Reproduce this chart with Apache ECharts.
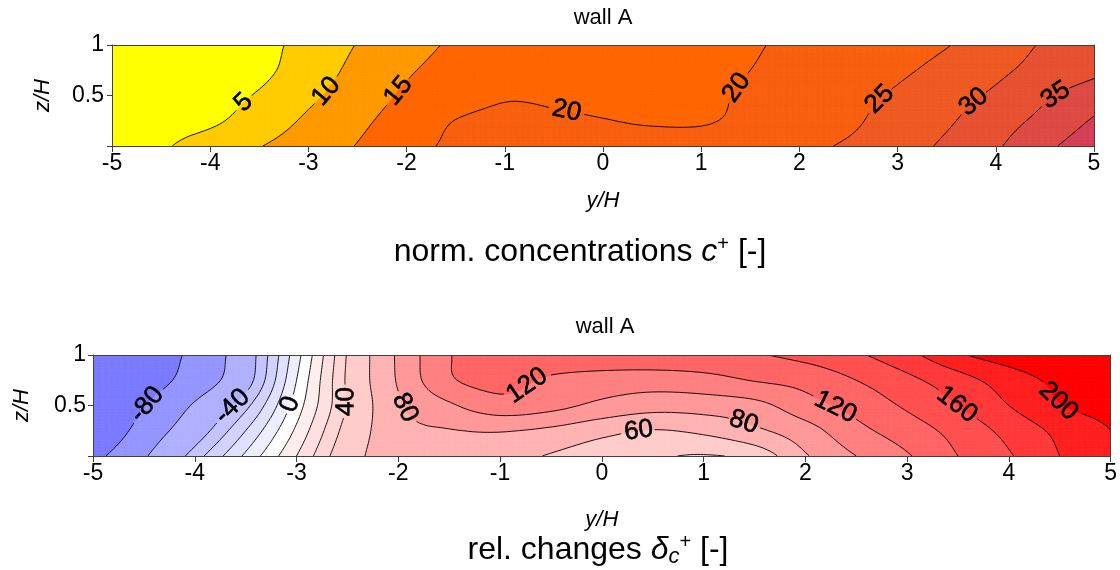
<!DOCTYPE html>
<html><head><meta charset="utf-8">
<script src="https://cdn.jsdelivr.net/npm/echarts@6/dist/echarts.min.js"></script>
<style>html,body{margin:0;padding:0;background:#fff}#c{width:1120px;height:570px}</style>
</head><body><div id="c"></div>
<script>
// ---------------- data ----------------
const yNodes = [-5,-4.5,-4,-3.5,-3,-2.5,-2,-1.5,-1,-0.5,0,0.5,1,1.5,2,2.5,3,3.5,4,4.5,5];
const zNodes = [0,0.25,0.5,0.75,1];
const xTickLabels = [-5,-4,-3,-2,-1,0,1,2,3,4,5];
const zTickLabels = [0.5,1];

// norm. concentrations c+ (rows: z = 0, 0.25, 0.5, 0.75, 1)
const concZ0   = [3,4.5,7,9.8,12.5,15.2,18.5,20.8,22,22.5,22.8,23,23.2,23.5,24.2,25.5,28,30.8,34.4,38.9,43];
const concZ025 = [2.5,3.5,4.3,7.2,10.8,13.9,17.2,20.1,21.3,20.8,20.2,19.4,19.4,21.5,23,24.2,27,29.4,32.8,36.4,40.5];
const concZ05  = [2,2.8,3.5,5.4,9,12.4,15.7,17.5,19.5,19.2,18.7,18.4,18.8,20.8,22.3,23.7,25.6,28.2,30.8,34.3,37.5];
const concZ075 = [1.5,2.3,3,4,7.4,11.3,14.5,16.5,17.8,17.8,17.8,17.8,18.3,20,21.5,22.8,24.3,26.3,29,31.7,34];
const concZ1   = [1.2,2,2.8,3.8,6.5,10.2,13.3,15.6,16.8,17.2,17.4,17.6,18,19.5,21,22.2,23.5,24.8,27.6,30.5,33];
const concLevels = [5,10,15,20,25,30,35,40];
const concColors = ['#ffff00','#ffcc00','#ff9900','#ff6600','#f8600f','#ef5a22','#e65232','#dd4a44','#d44055'];
const concLabels = [[-3.65,0.42,5],[-2.83,0.55,10],[-2.09,0.55,15],[-0.37,0.35,20],[1.37,0.57,20],[2.83,0.45,25],[3.78,0.43,30],[4.61,0.5,35]];

// rel. changes delta_c+ (rows: z = 0, 0.25, 0.5, 0.75, 1)
const deltaZ0   = [-86,-62,-35,-8,20,50,75,74,70,58,48,43,38.5,47,78,100,118,140,158,180,198];
const deltaZ025 = [-100,-72,-48,-20,12,45,74,79,81,76,66,59,64,76,92,114,130,147,166,185,200];
const deltaZ05  = [-106,-81,-58,-33,5,41,77,97,112,106,95,88,89,94,112,127,143,160,180,199,208];
const deltaZ075 = [-104,-90,-71,-46,0,42,82,117,126,117,112,110,113,121,127,140,155,172,190,205,214];
const deltaZ1   = [-100,-92,-75,-48,-4,41,83,119,130,133,134,135,136,138.5,146,157,174,197,210,216,220];
const deltaLevels = [-80,-60,-40,-30,-20,-10,0,10,20,30,40,60,80,100,120,140,160,180,200];
const deltaColors = ['#7b7bff','#9595ff','#b0b0ff','#c4c4ff','#d2d2ff','#e0e0ff','#eeeeff','#ffffff',
  '#ffeeee','#ffe0e0','#ffd6d6','#ffcccc','#ffb3b3','#ff9999','#ff8080','#ff6666','#ff5050','#ff3a3a','#ff2020','#ff0000'];
const deltaLabels = [[-4.47,0.51,-80],[-3.64,0.5,-40],[-3.06,0.51,0],[-2.51,0.54,40],[-1.9,0.5,80],[-0.73,0.69,120],
  [0.36,0.27,60],[1.4,0.35,80],[2.31,0.51,120],[3.49,0.51,160],[4.41,0.43,200]];

// ---------------- rendering helpers ----------------
const FONT = 'Liberation Sans, Arial, sans-serif';
const SUB = 8;
function cr(p0,p1,p2,p3,t){const t2=t*t,t3=t2*t;return 0.5*((2*p1)+(-p0+p2)*t+(2*p0-5*p1+4*p2-p3)*t2+(-p0+3*p1-3*p2+p3)*t3);}
function up(arr,s){const out=[],n=arr.length;for(let k=0;k<n-1;k++){
  const p1=arr[k],p2=arr[k+1];
  const p0=k>0?arr[k-1]:2*p1-p2, p3=k+2<n?arr[k+2]:2*p2-p1;
  for(let t=0;t<s;t++)out.push(cr(p0,p1,p2,p3,t/s));}
  out.push(arr[n-1]);return out;}
function lin(arr,s){const out=[];for(let k=0;k<arr.length-1;k++)for(let t=0;t<s;t++)out.push(arr[k]+(arr[k+1]-arr[k])*t/s);out.push(arr[arr.length-1]);return out;}
function buildPanel(rows, levels, colors, labels, fontSize){
  const ry = rows.map(r=>up(r,SUB));
  const W = ry[0].length;
  const cols = [];
  for(let i=0;i<W;i++) cols.push(up(ry.map(r=>r[i]),SUB));
  const H = cols[0].length;
  const fine = [];
  for(let j=0;j<H;j++) fine.push(cols.map(c=>c[j]));
  const yF = lin(yNodes,SUB), zF = lin(zNodes,SUB);
  const P = {fine, yF, zF, W, H, levels, colors, fontSize};
  const dy=yF[1]-yF[0], dz=zF[1]-zF[0];
  P.f = function(y,z){
    let fi=(y-yF[0])/dy, fj=(z-zF[0])/dz;
    fi=Math.max(0,Math.min(W-1.0001,fi)); fj=Math.max(0,Math.min(H-1.0001,fj));
    const i=Math.floor(fi), j=Math.floor(fj), a=fi-i, b=fj-j;
    return fine[j][i]*(1-a)*(1-b)+fine[j][i+1]*a*(1-b)+fine[j+1][i]*(1-a)*b+fine[j+1][i+1]*a*b;
  };
  P.labs = labels.map(([y,z,L])=>{
    for(let k=0;k<12;k++){
      const h=0.01, v=P.f(y,z);
      const gy=(P.f(y+h,z)-P.f(y-h,z))/(2*h), gz=(P.f(y,z+h)-P.f(y,z-h))/(2*h);
      const g2=gy*gy+gz*gz; if(g2<1e-9) break;
      let d=(L-v)/g2; let sy=d*gy, sz=d*gz; const m=Math.hypot(sy,sz);
      if(m>0.05){sy*=0.05/m;sz*=0.05/m;}
      y+=sy; z+=sz;
    }
    const h=0.03;
    const gy=(P.f(y+h,z)-P.f(y-h,z))/(2*h), gz=(P.f(y,z+h)-P.f(y,z-h))/(2*h);
    const txt=String(L);
    let w=0; for(const ch of txt) w += ch==='-'?0.333:0.556;
    return {y,z,L,gy,gz,txt,hw:w*fontSize/2+3};
  });
  return P;
}
const panels = [
  buildPanel([concZ0,concZ025,concZ05,concZ075,concZ1], concLevels, concColors, concLabels, 26),
  buildPanel([deltaZ0,deltaZ025,deltaZ05,deltaZ075,deltaZ1], deltaLevels, deltaColors, deltaLabels, 26)
];
function labelPx(P, api){
  const o=api.coord([0,0]), ex=api.coord([1,0]), ez=api.coord([0,1]);
  const sx=ex[0]-o[0], sz=o[1]-ez[1];
  return P.labs.map(l=>{
    const c=api.coord([l.y,l.z]);
    let th=Math.atan2(l.gy/sx, l.gz/sz);
    if(th>Math.PI/2+1e-6) th-=Math.PI; if(th<=-Math.PI/2+1e-6) th+=Math.PI;
    return {x:c[0],y:c[1],th,cos:Math.cos(th),sin:Math.sin(th),hw:l.hw,txt:l.txt};
  });
}
function clip(pts,L,above){
  const out=[];
  for(let n=0;n<pts.length;n++){
    const P=pts[n],Q=pts[(n+1)%pts.length];
    const pin=above?P[2]>=L:P[2]<=L, qin=above?Q[2]>=L:Q[2]<=L;
    if(pin) out.push(P);
    if(pin!==qin){const t=(L-P[2])/(Q[2]-P[2]);out.push([P[0]+t*(Q[0]-P[0]),P[1]+t*(Q[1]-P[1]),L]);}
  }
  return out;
}
function bandOf(v,lv){let k=0;while(k<lv.length&&v>=lv[k])k++;return k;}
function polyStr(p){let s='M'+p[0][0].toFixed(2)+' '+p[0][1].toFixed(2);for(let k=1;k<p.length;k++)s+='L'+p[k][0].toFixed(2)+' '+p[k][1].toFixed(2);return s+'Z';}
function rowPts(P,api,j){
  const r=[];
  for(let i=0;i<P.W;i++){const c=api.coord([P.yF[i],P.zF[j]]);r.push([c[0],c[1],P.fine[j][i]]);}
  return r;
}
function fillRender(P){
  return function(params,api){
    const j=api.value(2), lv=P.levels;
    const A=rowPts(P,api,j), B=rowPts(P,api,j+1);
    const paths=new Array(lv.length+1).fill('');
    for(let i=0;i<P.W-1;i++){
      const tris=[[A[i],A[i+1],B[i+1]],[A[i],B[i+1],B[i]]];
      for(const t of tris){
        const vmin=Math.min(t[0][2],t[1][2],t[2][2]), vmax=Math.max(t[0][2],t[1][2],t[2][2]);
        const k0=bandOf(vmin,lv), k1=bandOf(vmax,lv);
        if(k0===k1){paths[k0]+=polyStr(t);continue;}
        for(let k=k0;k<=k1;k++){
          let p=t;
          if(k>0) p=clip(p,lv[k-1],true);
          if(p.length>=3&&k<lv.length) p=clip(p,lv[k],false);
          if(p.length>=3) paths[k]+=polyStr(p);
        }
      }
    }
    const children=[];
    paths.forEach((d,k)=>{ if(d) children.push({type:'path',shape:{pathData:d},style:{fill:P.colors[k],stroke:P.colors[k],lineWidth:0.8}}); });
    return {type:'group',children};
  };
}
function lineRender(P){
  return function(params,api){
    const j=api.value(2), lv=P.levels;
    const labs=labelPx(P,api);
    const A=rowPts(P,api,j), B=rowPts(P,api,j+1);
    let d='';
    for(let i=0;i<P.W-1;i++){
      const tris=[[A[i],A[i+1],B[i+1]],[A[i],B[i+1],B[i]]];
      for(const t of tris){
        for(const L of lv){
          const pts=[];
          for(let e=0;e<3;e++){
            const p=t[e],q=t[(e+1)%3];
            if((p[2]>=L)!==(q[2]>=L)){const s=(L-p[2])/(q[2]-p[2]);pts.push([p[0]+s*(q[0]-p[0]),p[1]+s*(q[1]-p[1])]);}
          }
          if(pts.length!==2) continue;
          const mx=(pts[0][0]+pts[1][0])/2, my=(pts[0][1]+pts[1][1])/2;
          let skip=false;
          for(const l of labs){
            const dx=mx-l.x, dy=my-l.y;
            const u=dx*l.cos+dy*l.sin, w=-dx*l.sin+dy*l.cos;
            if(Math.abs(u)<l.hw&&Math.abs(w)<10){skip=true;break;}
          }
          if(skip) continue;
          d+='M'+pts[0][0].toFixed(2)+' '+pts[0][1].toFixed(2)+'L'+pts[1][0].toFixed(2)+' '+pts[1][1].toFixed(2);
        }
      }
    }
    return d?{type:'path',shape:{pathData:d},style:{fill:null,stroke:'#000',lineWidth:0.9}}:{type:'group',children:[]};
  };
}
function labelRender(P){
  return function(params,api){
    const l=labelPx(P,api)[params.dataIndex];
    return {type:'text',x:l.x,y:l.y,rotation:-l.th,
      style:{text:l.txt,fill:'#000',stroke:'#000',lineWidth:0.6,fontSize:P.fontSize,fontFamily:FONT,align:'center',verticalAlign:'middle'}};
  };
}

// ---------------- chart ----------------
const grids=[{left:112,top:45,width:982,height:101},{left:93,top:355,width:1024,height:101}];
const AX='#404040';
const TICKF=23;
const xAxes=[],yAxes=[],series=[];
const xStep=xTickLabels[1]-xTickLabels[0], zStep=zTickLabels[1]-zTickLabels[0];
[44,53].forEach((gap,g)=>{
  xAxes.push({gridIndex:g,type:'value',min:xTickLabels[0],max:xTickLabels[xTickLabels.length-1],interval:xStep,z:10,
    axisLine:{show:true,onZero:false,lineStyle:{color:AX,width:1}},
    axisTick:{show:true,inside:false,length:6,lineStyle:{color:AX}},
    axisLabel:{fontSize:TICKF,color:'#000',margin:6,fontFamily:FONT},
    splitLine:{show:false},
    name:'y/H',nameLocation:'middle',nameGap:gap,
    nameTextStyle:{fontStyle:'italic',fontSize:22,color:'#000',fontFamily:FONT}});
  xAxes.push({gridIndex:g,type:'value',position:'top',min:-5,max:5,z:10,
    axisLine:{show:true,onZero:false,lineStyle:{color:AX,width:1}},axisTick:{show:false},axisLabel:{show:false},splitLine:{show:false}});
  yAxes.push({gridIndex:g,type:'value',min:0,max:zTickLabels[zTickLabels.length-1],interval:zStep,z:10,
    axisLine:{show:true,onZero:false,lineStyle:{color:AX,width:1}},
    axisTick:{show:true,inside:false,length:5,lineStyle:{color:AX}},
    axisLabel:{fontSize:TICKF,color:'#000',margin:g===0?8:7,fontFamily:FONT,
      formatter:v=>zTickLabels.indexOf(v)>=0?String(v):''},
    splitLine:{show:false},
    name:'z/H',nameLocation:'middle',nameGap:g===0?58:60,nameRotate:90,
    nameTextStyle:{fontStyle:'italic',fontSize:22,color:'#000',fontFamily:FONT}});
  yAxes.push({gridIndex:g,type:'value',position:'right',min:0,max:1,z:10,
    axisLine:{show:true,onZero:false,lineStyle:{color:AX,width:1}},axisTick:{show:false},axisLabel:{show:false},splitLine:{show:false}});
});
panels.forEach((P,g)=>{
  const rowsData=[];
  for(let j=0;j<P.H-1;j++) rowsData.push([0,P.zF[j],j]);
  series.push({type:'custom',xAxisIndex:2*g,yAxisIndex:2*g,coordinateSystem:'cartesian2d',renderItem:fillRender(P),
    data:rowsData,encode:{x:0,y:1},silent:true,z:1,animation:false,clip:true});
  series.push({type:'custom',xAxisIndex:2*g,yAxisIndex:2*g,coordinateSystem:'cartesian2d',renderItem:lineRender(P),
    data:rowsData,encode:{x:0,y:1},silent:true,z:2,animation:false,clip:true});
  series.push({type:'custom',xAxisIndex:2*g,yAxisIndex:2*g,coordinateSystem:'cartesian2d',renderItem:labelRender(P),
    data:P.labs.map(l=>[l.y,l.z,l.L]),encode:{x:0,y:1},silent:true,z:3,animation:false});
});
const chart=echarts.init(document.getElementById('c'),null,{renderer:'canvas'});
chart.setOption({
  animation:false,
  backgroundColor:'#fff',
  grid:grids,xAxis:xAxes,yAxis:yAxes,series,
  graphic:[
    {type:'text',x:603,y:18,style:{text:'wall A',fontSize:22,fontFamily:FONT,fill:'#000',align:'center',verticalAlign:'middle'}},
    {type:'text',x:605,y:327,style:{text:'wall A',fontSize:22,fontFamily:FONT,fill:'#000',align:'center',verticalAlign:'middle'}},
    {type:'text',x:580,y:252,style:{text:'{n|norm. concentrations }{i|c}{p|+}{n| [-]}',align:'center',verticalAlign:'middle',fill:'#000',
      rich:{n:{fontSize:32,fontFamily:FONT,lineHeight:36},i:{fontSize:32,fontFamily:FONT,fontStyle:'italic',lineHeight:36},
            p:{fontSize:20,fontFamily:FONT,verticalAlign:'top',lineHeight:20}}}},
    {type:'text',x:598,y:550,style:{text:'{n|rel. changes }{i|δ}{b|c}{p|+}{n| [-]}',align:'center',verticalAlign:'middle',fill:'#000',
      rich:{n:{fontSize:32,fontFamily:FONT,lineHeight:36},i:{fontSize:32,fontFamily:FONT,fontStyle:'italic',lineHeight:36},
            b:{fontSize:22,fontFamily:FONT,fontStyle:'italic',verticalAlign:'bottom',lineHeight:17},
            p:{fontSize:20,fontFamily:FONT,verticalAlign:'top',lineHeight:20}}}}
  ]
});
</script></body></html>
